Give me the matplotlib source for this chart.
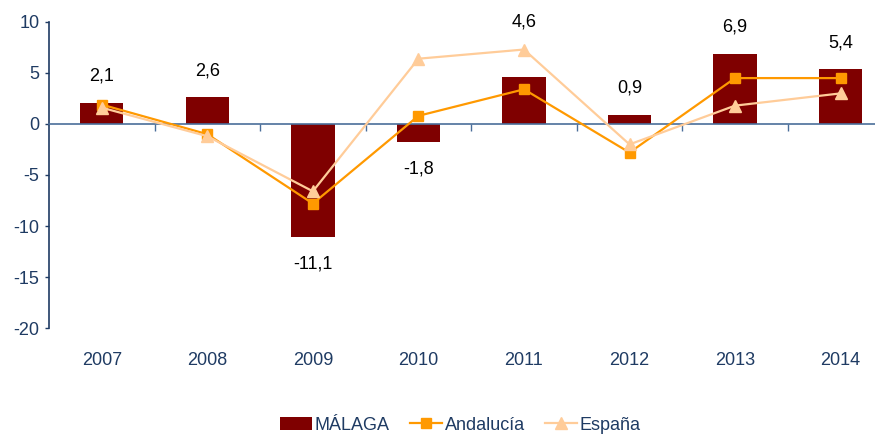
import matplotlib.pyplot as plt
import numpy as np

years = ['2007', '2008', '2009', '2010', '2011', '2012', '2013', '2014']
malaga = [2.1, 2.6, -11.1, -1.8, 4.6, 0.9, 6.9, 5.4]
andalucia = [1.9, -1.0, -7.8, 0.8, 3.4, -2.8, 4.5, 4.5]
espana = [1.6, -1.2, -6.6, 6.4, 7.3, -2.0, 1.8, 3.0]

navy = '#1F3B63'
plt.rcParams['font.family'] = ['Liberation Sans', 'DejaVu Sans']
plt.rcParams['axes.unicode_minus'] = False

fig = plt.figure(figsize=(8.75, 4.37), dpi=100)
ax = fig.add_axes([0.056, 0.2494, 0.965, 0.7003])

x = np.arange(len(years))
bars = ax.bar(x, malaga, width=0.41, color='#7F0000', label='MÁLAGA', zorder=2)
l1, = ax.plot(x, andalucia, color='#FF9900', lw=1.6, marker='s', ms=7,
              label='Andalucía', zorder=3)
l2, = ax.plot(x, espana, color='#FFCC99', lw=1.6, marker='^', ms=8,
              label='España', zorder=4)

# data labels for the bars
extra = {4: 21}  # 2011 label sits higher, above the España point
for i, v in enumerate(malaga):
    off = 19 + extra.get(i, 0)
    ax.annotate(f'{v:.1f}'.replace('.', ','), (x[i], v),
                xytext=(0, off if v >= 0 else -off), textcoords='offset points',
                ha='center', va='center', fontsize=13, color='black')

ax.set_xlim(-0.5, len(years) - 0.5)
ax.set_ylim(-20, 10)
ax.set_yticks([10, 5, 0, -5, -10, -15, -20])
ax.tick_params(axis='y', direction='out', length=3, width=1, colors=navy,
               labelsize=13, pad=4)

for s in ['top', 'right']:
    ax.spines[s].set_visible(False)
ax.spines['left'].set_color(navy)
ax.spines['left'].set_linewidth(1.2)
ax.spines['bottom'].set_position(('data', 0))
ax.spines['bottom'].set_color('#4A6E9A')
ax.spines['bottom'].set_linewidth(1.2)

# boundary ticks on the zero line
ax.set_xticks(x[:-1] + 0.5)
ax.set_xticklabels([])
ax.tick_params(axis='x', direction='out', length=5, width=1, colors='#4A6E9A')

# year labels at the bottom
sec = ax.secondary_xaxis('bottom')
sec.set_xticks(x)
sec.set_xticklabels(years)
sec.tick_params(length=0, pad=17, labelsize=13, colors=navy)
sec.spines['bottom'].set_visible(False)

leg = fig.legend([bars, l1, l2], ['MÁLAGA', 'Andalucía', 'España'],
                 loc='center', bbox_to_anchor=(0.526, 0.027), ncol=3,
                 frameon=False, fontsize=13, handlelength=1.8,
                 handletextpad=0.15, columnspacing=1.1)
for t in leg.get_texts():
    t.set_color(navy)

fig.savefig('out.png', dpi=100)
